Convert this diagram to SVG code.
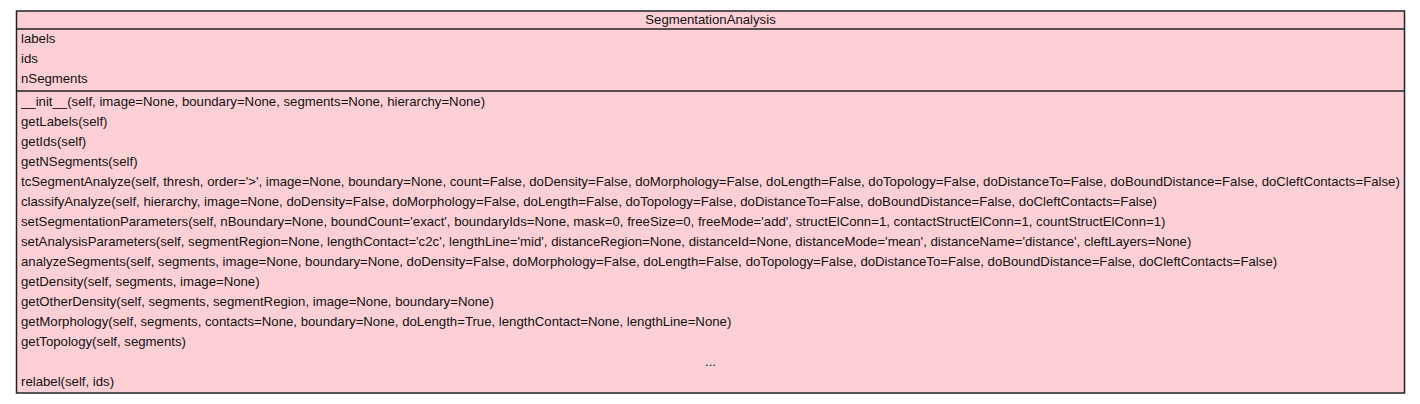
<svg xmlns="http://www.w3.org/2000/svg" width="1420" height="404" viewBox="0 0 1420 404">
<style>
.box{fill:#fed0d5;stroke:#222;stroke-width:1.5}
.ln{stroke:#222;stroke-width:1.5}
text{font-family:"Liberation Sans",Arial,sans-serif;font-size:13.2px;fill:#111}
.c{text-anchor:middle}
</style>
<rect width="1420" height="404" fill="#fff"/>
<g id="SegmentationAnalysis">
<rect class="box" x="16.5" y="11" width="1388" height="382"/>
<line class="ln" x1="16.5" y1="29" x2="1404.5" y2="29"/>
<line class="ln" x1="16.5" y1="91" x2="1404.5" y2="91"/>
<text class="c" x="710.5" y="23.5">SegmentationAnalysis</text>
<text x="21" y="43">labels</text>
<text x="21" y="63">ids</text>
<text x="21" y="83">nSegments</text>
<text x="21" y="106">__init__(self, image=None, boundary=None, segments=None, hierarchy=None)</text>
<text x="21" y="126">getLabels(self)</text>
<text x="21" y="146">getIds(self)</text>
<text x="21" y="166">getNSegments(self)</text>
<text x="21" y="186">tcSegmentAnalyze(self, thresh, order='&gt;', image=None, boundary=None, count=False, doDensity=False, doMorphology=False, doLength=False, doTopology=False, doDistanceTo=False, doBoundDistance=False, doCleftContacts=False)</text>
<text x="21" y="206">classifyAnalyze(self, hierarchy, image=None, doDensity=False, doMorphology=False, doLength=False, doTopology=False, doDistanceTo=False, doBoundDistance=False, doCleftContacts=False)</text>
<text x="21" y="226">setSegmentationParameters(self, nBoundary=None, boundCount='exact', boundaryIds=None, mask=0, freeSize=0, freeMode='add', structElConn=1, contactStructElConn=1, countStructElConn=1)</text>
<text x="21" y="246">setAnalysisParameters(self, segmentRegion=None, lengthContact='c2c', lengthLine='mid', distanceRegion=None, distanceId=None, distanceMode='mean', distanceName='distance', cleftLayers=None)</text>
<text x="21" y="266">analyzeSegments(self, segments, image=None, boundary=None, doDensity=False, doMorphology=False, doLength=False, doTopology=False, doDistanceTo=False, doBoundDistance=False, doCleftContacts=False)</text>
<text x="21" y="286">getDensity(self, segments, image=None)</text>
<text x="21" y="306">getOtherDensity(self, segments, segmentRegion, image=None, boundary=None)</text>
<text x="21" y="326">getMorphology(self, segments, contacts=None, boundary=None, doLength=True, lengthContact=None, lengthLine=None)</text>
<text x="21" y="346">getTopology(self, segments)</text>
<text class="c" x="710.5" y="366">...</text>
<text x="21" y="386">relabel(self, ids)</text>
</g>
<g id="connectors"></g>
</svg>
